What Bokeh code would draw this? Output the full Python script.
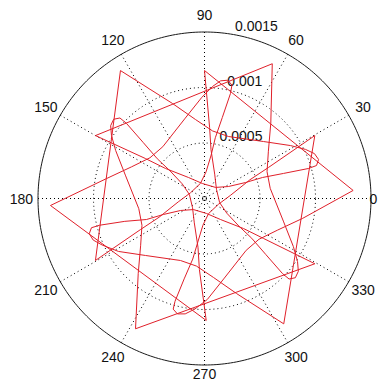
import numpy as np
from bokeh.plotting import figure
from bokeh.models import Range1d
from bokeh.core.properties import value
from bokeh.embed import file_html
from bokeh.resources import INLINE

# ---- chart values ----
R_MAX = 0.0015
R_TICKS = [0.0005, 0.001, 0.0015]
R_TICK_LABELS = ["0.0005", "0.001", "0.0015"]
ANGLE_TICKS = [0, 30, 60, 90, 120, 150, 180, 210, 240, 270, 300, 330]
ANGLE_LABELS = ["0", "30", "60", "90", "120", "150", "180", "210", "240", "270", "300", "330"]

# polar curve: angle (degrees) and radius
theta_deg = [
    123.3, 108.6, 96.5, 83.2, 68.8, 44.0, 31.6, 25.9, 22.2, 18.9, 16.4, 16.1, 17.6, 19.9, 21.3, 26.6, 45.0, 97.6, 127.3, 142.4, 145.9, 150.0,
    63.3, 48.6, 36.5, 23.2, 8.8, 344.0, 331.6, 325.9, 322.2, 318.9, 316.4, 316.1, 317.6, 319.9, 321.3, 326.6, 345.0, 37.6, 67.3, 82.4, 85.9, 90.0,
    3.1, 348.6, 336.5, 323.2, 308.8, 284.0, 271.6, 265.0, 260.5, 256.8, 254.2, 254.0, 255.8, 259.0, 261.3, 266.6, 285.0, 337.6, 7.3, 22.4, 25.9, 29.7,
    302.3, 288.6, 276.5, 263.2, 248.8, 224.0, 211.6, 204.5, 200.5, 197.0, 194.5, 194.3, 196.0, 199.9, 201.3, 206.6, 225.0, 277.6, 307.3, 322.4, 325.9, 329.4,
    242.1, 228.6, 216.5, 203.2, 188.8, 164.0, 151.6, 145.9, 142.2, 138.9, 136.4, 136.1, 137.6, 139.9, 141.3, 146.6, 165.0, 217.6, 247.3, 262.4, 265.9, 270.8,
    182.6, 168.6, 156.5, 143.2, 128.8, 104.0, 91.6, 85.9, 82.2, 78.9, 76.4, 76.1, 77.6, 79.9, 81.3, 86.6, 105.0, 157.6, 187.3, 202.4, 205.9, 209.6,
    123.3,
]
rho = [
    0.001379, 0.000903, 0.000716, 0.000613, 0.000599, 0.000739, 0.000910, 0.001012, 0.001070, 0.001086, 0.001052, 0.000975, 0.000747, 0.000556, 0.000396, 0.000241, 0.000141, 0.000136, 0.000238, 0.000443, 0.000642, 0.001134,
    0.001359, 0.000903, 0.000716, 0.000613, 0.000599, 0.000739, 0.000910, 0.001012, 0.001070, 0.001086, 0.001052, 0.000975, 0.000747, 0.000556, 0.000396, 0.000241, 0.000141, 0.000136, 0.000238, 0.000443, 0.000642, 0.001153,
    0.001341, 0.000903, 0.000716, 0.000613, 0.000599, 0.000739, 0.000910, 0.001000, 0.001054, 0.001068, 0.001036, 0.000964, 0.000747, 0.000556, 0.000396, 0.000241, 0.000141, 0.000136, 0.000238, 0.000443, 0.000642, 0.001144,
    0.001336, 0.000903, 0.000716, 0.000613, 0.000599, 0.000739, 0.000910, 0.001012, 0.001070, 0.001086, 0.001052, 0.000975, 0.000747, 0.000556, 0.000396, 0.000241, 0.000141, 0.000136, 0.000238, 0.000443, 0.000642, 0.001155,
    0.001328, 0.000903, 0.000716, 0.000613, 0.000599, 0.000739, 0.000910, 0.001012, 0.001070, 0.001086, 0.001052, 0.000975, 0.000747, 0.000556, 0.000396, 0.000241, 0.000141, 0.000136, 0.000238, 0.000443, 0.000642, 0.001099,
    0.001389, 0.000903, 0.000716, 0.000613, 0.000599, 0.000739, 0.000910, 0.001012, 0.001070, 0.001086, 0.001052, 0.000975, 0.000747, 0.000556, 0.000396, 0.000241, 0.000141, 0.000136, 0.000238, 0.000443, 0.000642, 0.001130,
    0.001379,
]

# ---- layout ----
W, H = 378, 382
CX, CY = 204.0, 198.0          # centre of the polar grid, in figure pixels
SCALE = 166.5 / R_MAX          # pixels per data unit

p = figure(width=W, height=H,
           x_range=Range1d(-CX / SCALE, (W - CX) / SCALE),
           y_range=Range1d(-(H - CY) / SCALE, CY / SCALE),
           output_backend="svg", toolbar_location=None, min_border=0)
p.axis.visible = False
p.grid.visible = False
p.outline_line_color = None
p.background_fill_color = "white"
p.border_fill_color = "white"

GRID = "#000000"
# circles
t = np.linspace(0, 2 * np.pi, 361)
for r in R_TICKS:
    if r == R_MAX:
        p.line(r * np.cos(t), r * np.sin(t), line_color="#1a1a1a", line_width=1)
    else:
        p.line(r * np.cos(t), r * np.sin(t), line_color=GRID, line_width=1,
               line_dash="1 3")

# spokes
for a in ANGLE_TICKS[1:7]:
    ar = np.deg2rad(a)
    p.line([-R_MAX * np.cos(ar), R_MAX * np.cos(ar)],
           [-R_MAX * np.sin(ar), R_MAX * np.sin(ar)],
           line_color=GRID, line_width=1, line_dash="1 3")

# radial tick labels
c82, s82 = np.cos(np.deg2rad(82)), np.sin(np.deg2rad(82))
rinc = R_TICKS[1] - R_TICKS[0]
rx = [(r + rinc / 20) * c82 for r in R_TICKS]
ry = [(r + rinc / 20) * s82 for r in R_TICKS]
p.text(rx, ry, text=R_TICK_LABELS, text_align="left", text_baseline="bottom",
       x_offset=7, text_font=value("Liberation Sans"), text_font_size="14px",
       text_color="#111111")

# angle labels at 1.1*rmax, kept inside the figure edges
ang = np.deg2rad(ANGLE_TICKS)
lx = 1.1 * R_MAX * np.cos(ang)
ly = 1.1 * R_MAX * np.sin(ang)
x_min, x_max = (-CX + 12) / SCALE, (W - CX - 5) / SCALE
y_min, y_max = (-(H - CY) + 9) / SCALE, (CY - 9) / SCALE
lx = np.clip(lx, x_min, x_max)
ly = np.clip(ly, y_min, y_max)
p.text(lx, ly, text=ANGLE_LABELS,
       text_align="center", text_baseline="middle",
       text_font=value("Liberation Sans"), text_font_size="14px",
       text_color="#111111")

# data curve
th = np.deg2rad(theta_deg)
rr = np.array(rho)
p.line(rr * np.cos(th), rr * np.sin(th), line_color="#e0202a", line_width=1)

open("out.html", "w").write(file_html(p, INLINE))
